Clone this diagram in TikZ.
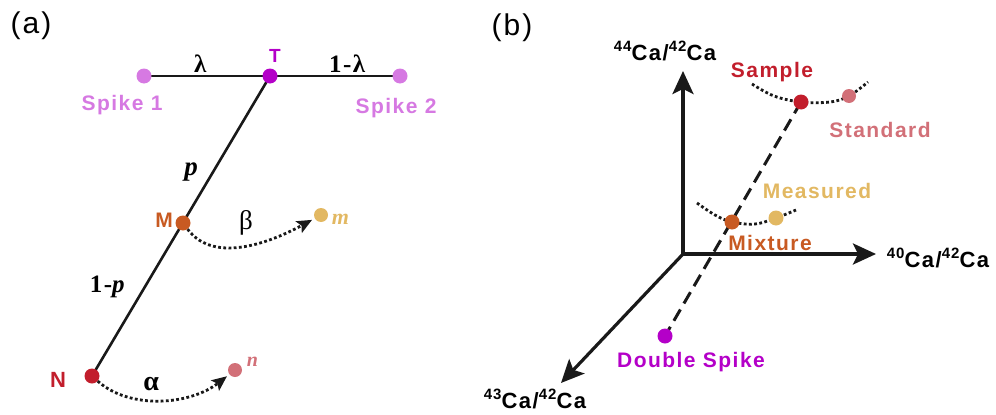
\documentclass[tikz,border=0pt]{standalone}
\usepackage{fontspec}
\setmainfont{Liberation Serif}
\newfontfamily\labf[LetterSpace=7]{Liberation Sans}
\newfontfamily\serl[LetterSpace=6]{Liberation Serif}
\usetikzlibrary{arrows.meta}
\definecolor{spk}{HTML}{D679E2}
\definecolor{tcol}{HTML}{B400C8}
\definecolor{mcol}{HTML}{C85A22}
\definecolor{mmcol}{HTML}{E2B862}
\definecolor{ncol}{HTML}{C21E2C}
\definecolor{nncol}{HTML}{D27078}
\newcommand{\iso}[1]{\raisebox{9pt}{\fontsize{15}{15}\selectfont #1}}
\tikzset{
  dot/.style={circle,fill=#1,inner sep=0pt,minimum size=15pt},
  sdot/.style={circle,fill=#1,inner sep=0pt,minimum size=14pt},
  lab/.style={font={\labf\bfseries\fontsize{21}{21}\selectfont},text=#1,inner sep=0pt,anchor=base},
  axlab/.style={font={\labf\bfseries\fontsize{22}{22}\selectfont},inner sep=0pt,anchor=base},
  panel/.style={font={\labf\fontsize{30}{30}\selectfont},inner sep=0pt,anchor=base},
  ser/.style={font={\serl\fontsize{#1}{#1}\selectfont},inner sep=0pt,anchor=base},
  mainline/.style={line width=2.6pt,black!90},
  dotline/.style={line width=2.8pt,dash pattern=on 2.8pt off 2.4pt,black!90},
  axis/.style={line width=3.2pt,black!90,-{Stealth[length=23pt,width=21pt,inset=5pt]}},
  dashline/.style={line width=3pt,dash pattern=on 13pt off 7pt,black!90},
}
\begin{document}
\begin{tikzpicture}[x=1pt,y=-1pt]
\useasboundingbox (0,0) rectangle (996,415);
% ---------- panel (a) ----------
\node[panel] (pa) at (31,34) {(a)};
\coordinate (S1c) at (144,76);
\coordinate (S2c) at (400,76);
\coordinate (Tc) at (270,76);
\coordinate (Nc) at (92,376);
\draw[mainline] (S1c) -- (S2c);
\draw[mainline] (Tc) -- (Nc);
\node[dot=spk] (S1) at (S1c) {};
\node[dot=spk] (S2) at (S2c) {};
\node[dot=tcol] (T) at (Tc) {};
\node[dot=mcol] (M) at (183,223) {};
\node[dot=ncol] (N) at (Nc) {};
\node[sdot=mmcol] (m) at (321,215) {};
\node[sdot=nncol] (n) at (235,370) {};
\draw[dotline,-{Stealth[length=15pt,width=13pt,inset=3pt]},shorten >=3pt]
  (M) .. controls (215,266) and (275,240) .. (m);
\draw[dotline,-{Stealth[length=15pt,width=13pt,inset=3pt]},shorten >=3pt]
  (N) .. controls (130,410) and (190,405) .. (n);
\node[lab=tcol,font={\labf\bfseries\fontsize{19}{19}\selectfont}] (Tl) at (275,62) {T};
\node[lab=spk] (S1l) at (122,110) {Spike 1};
\node[lab=spk] (S2l) at (396,113) {Spike 2};
\node[lab=mcol,font={\labf\bfseries\fontsize{21}{21}\selectfont}] (Ml) at (164,227) {M};
\node[lab=ncol,font={\labf\bfseries\fontsize{22}{22}\selectfont}] (Nl) at (58,387) {N};
\node[ser=25] (lam) at (201,72) {\textbf{λ}};
\node[ser=25] (olam) at (348,72) {\textbf{1-λ}};
\node[ser=27] (pl) at (192,175) {\textbf{\textit{p}}};
\node[ser=25] (opl) at (108,292) {\textbf{1-\textit{p}}};
\node[ser=27] (bl) at (246,229) {β};
\node[ser=28] (al) at (152,390) {\textbf{α}};
\node[ser=22,text=mmcol] (ml) at (341,224) {\textbf{\textit{m}}};
\node[ser=20,text=nncol] (nl) at (253,366) {\textbf{\textit{n}}};
% ---------- panel (b) ----------
\node[panel] (pb) at (512,35) {(b)};
\coordinate (O) at (683,254);
\coordinate (Yt) at (683,71);
\coordinate (Xt) at (876,254);
\coordinate (Zt) at (561,383);
\draw[axis] (O) -- (Yt);
\draw[axis] (O) -- (Xt);
\draw[axis] ([shift={(1,-1)}]O) -- (Zt);
\coordinate (Sc) at (801,102);
\coordinate (Dc) at (665,336);
\draw[dashline] (Sc) -- (Dc);
\draw[dotline] plot[smooth,tension=0.6] coordinates {(752,84) (774,96) (801,102) (830,102) (849,96) (868,82)};
\draw[dotline] plot[smooth,tension=0.6] coordinates {(697,203) (715,215) (732,222) (755,224) (776,218) (796,210)};
\node[dot=ncol] (Sa) at (Sc) {};
\node[sdot=nncol] (St) at (849,96) {};
\node[dot=mcol] (Mi) at (732,222) {};
\node[dot=mmcol] (Me) at (776,218) {};
\node[dot=tcol] (DS) at (Dc) {};
\node[lab=ncol] (Sal) at (772,77) {Sample};
\node[lab=nncol] (Stl) at (880,137) {Standard};
\node[lab=mmcol] (Mel) at (817,198) {Measured};
\node[lab=mcol] (Mil) at (770,250) {Mixture};
\node[lab=tcol] (DSl) at (691,367) {Double Spike};
\node[axlab] (yl) at (665,60) {\iso{44}Ca/\iso{42}Ca};
\node[axlab] (xl) at (938,267) {\iso{40}Ca/\iso{42}Ca};
\node[axlab] (zl) at (535,408) {\iso{43}Ca/\iso{42}Ca};
\end{tikzpicture}
\end{document}
